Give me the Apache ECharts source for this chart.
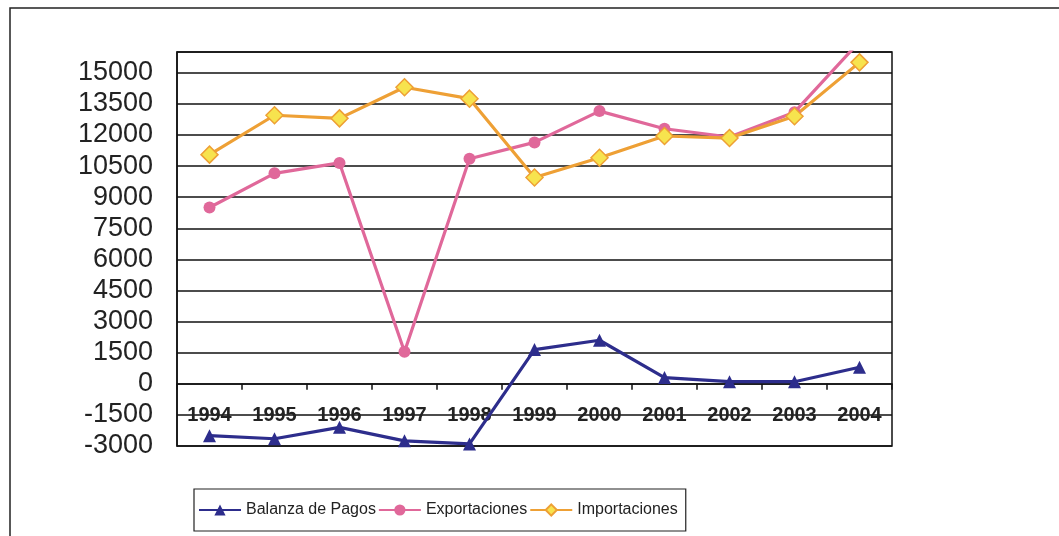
<!DOCTYPE html>
<html>
<head>
<meta charset="utf-8">
<script src="https://cdn.jsdelivr.net/npm/echarts@6/dist/echarts.min.js"></script>
<style>
  html, body { margin: 0; padding: 0; background: #fff; }
  #main { width: 1059px; height: 536px; }
</style>
</head>
<body>
<div id="main"></div>
<script>
  // años
  var years = ['1994', '1995', '1996', '1997', '1998', '1999', '2000', '2001', '2002', '2003', '2004'];
  // series
  var balanza = [-2500, -2650, -2100, -2750, -2900, 1650, 2100, 300, 100, 100, 800];
  var exportaciones = [8500, 10150, 10650, 1550, 10850, 11640, 13150, 12300, 11900, 13100, 16500];
  var importaciones = [11050, 12950, 12800, 14300, 13750, 9950, 10900, 11950, 11850, 12900, 15500];

  var chart = echarts.init(document.getElementById('main'));
  chart.setOption({
    animation: false,
    textStyle: { fontFamily: 'Liberation Sans, Arial, sans-serif' },
    graphic: [{
      type: 'rect',
      shape: { x: 10, y: 8, width: 1200, height: 700 },
      style: { fill: 'none', stroke: '#222', lineWidth: 1.5 },
      silent: true
    }],
    grid: {
      left: 177, top: 52, right: 167, bottom: 90,
      show: true, borderColor: '#111', borderWidth: 1.5
    },
    legend: {
      left: 194, top: 489,
      itemWidth: 42, itemHeight: 14, itemGap: 2,
      padding: [13, 8, 13, 4],
      borderColor: '#222', borderWidth: 1.2,
      textStyle: { fontSize: 16, color: '#222' },
      data: ['Balanza de Pagos', 'Exportaciones', 'Importaciones']
    },
    xAxis: [
      {
        // eje en el cero, solo linea y marcas
        type: 'category',
        data: years,
        axisLine: { onZero: true, lineStyle: { color: '#111', width: 1.5 } },
        axisTick: { show: true, length: 6, lineStyle: { color: '#111', width: 1.5 } },
        axisLabel: { show: false },
        splitLine: { show: false }
      },
      {
        // etiquetas de los años, debajo del cero
        type: 'category',
        data: years,
        position: 'bottom',
        offset: -63,
        axisLine: { show: false, onZero: false },
        axisTick: { show: false },
        axisLabel: { margin: 22, fontSize: 20, fontWeight: 'bold', color: '#222' },
        splitLine: { show: false }
      }
    ],
    yAxis: {
      type: 'value',
      min: -3000, max: 16000, interval: 1500,
      axisLine: { show: true, lineStyle: { color: '#111', width: 1.5 } },
      axisTick: { show: false },
      axisLabel: {
        fontSize: 27, color: '#222', margin: 24, showMaxLabel: false,
        formatter: function (v) { return String(v); }
      },
      splitLine: { lineStyle: { color: '#111', width: 1.5 } }
    },
    series: [
      {
        name: 'Balanza de Pagos', type: 'line', data: balanza,
        symbol: 'triangle', symbolSize: 13,
        lineStyle: { color: '#2d2d8c', width: 3.2 },
        itemStyle: { color: '#2d2d8c' }
      },
      {
        name: 'Exportaciones', type: 'line', data: exportaciones,
        symbol: 'circle', symbolSize: 12,
        lineStyle: { color: '#e0689a', width: 3.2 },
        itemStyle: { color: '#e0689a' }
      },
      {
        name: 'Importaciones', type: 'line', data: importaciones,
        symbol: 'diamond', symbolSize: 17,
        lineStyle: { color: '#eea035', width: 3.2 },
        itemStyle: { color: '#f7e34e', borderColor: '#eea035', borderWidth: 1.5 }
      }
    ]
  });
</script>
</body>
</html>
